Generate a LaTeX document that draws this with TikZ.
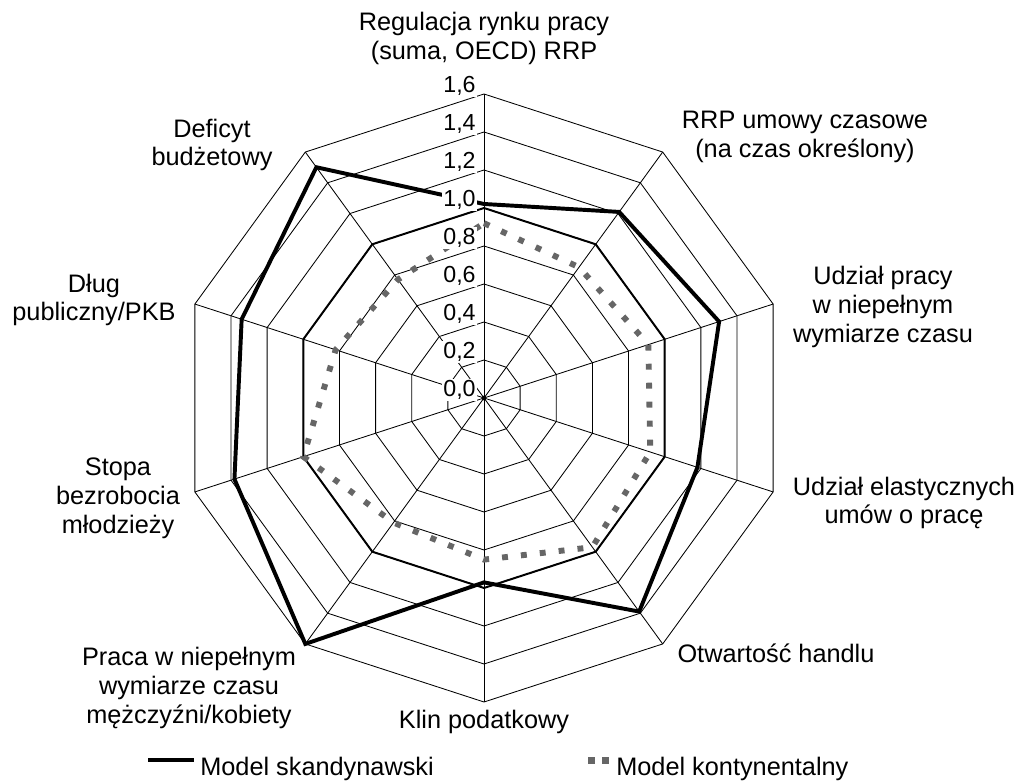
\documentclass[tikz,border=0pt]{standalone}
\usepackage{fontspec}
\setmainfont{Liberation Sans}
\begin{document}
\begin{tikzpicture}[
    siatka/.style={line width=0.6pt},
    srednia/.style={line width=1.4pt},
    skand/.style={line width=2.8pt},
    kont/.style={line width=4.2pt, black!60, dash pattern=on 4.2pt off 9.3pt},
    opis/.style={font=\fontsize{18}{20.5}\selectfont, align=center},
    skala/.style={font=\fontsize{16.5}{18}\selectfont, anchor=base east, inner sep=0.8pt, fill=white},
    legenda/.style={font=\fontsize{18}{20.5}\selectfont, anchor=base west, inner sep=0pt}
]
    \useasboundingbox (0,0) rectangle (25.5,19.55);

    \begin{scope}[shift={(12.1,9.6)}]
        % Siatka (co 0,2)
        \foreach \i [evaluate=\i as \r using 0.95*\i] in {1,...,8}
            \draw[siatka] (90:\r) \foreach \a in {54,18,...,-234} { -- (\a:\r) } -- cycle;

        % Osie
        \foreach \a in {90,54,...,-234}
            \draw[siatka] (0,0) -- (\a:7.6);

        % Poziom 1,0
        \draw[srednia] (90:4.75) \foreach \a in {54,18,...,-234} { -- (\a:4.75) } -- cycle;

        % Model kontynentalny
        \draw[kont] (90:4.37) -- (54:4.04) -- (18:4.32) -- (-18:4.37) -- (-54:4.61)
            -- (-90:4.04) -- (-126:3.85) -- (-162:4.75) -- (162:3.90) -- (126:3.66) -- cycle;

        % Model skandynawski
        \draw[skand] (90:4.85) -- (54:5.75) -- (18:6.18) -- (-18:5.61) -- (-54:6.60)
            -- (-90:4.61) -- (-126:7.6) -- (-162:6.56) -- (162:6.37) -- (126:7.13) -- cycle;

        \fill (0,0) circle (0.06);

        % Skala
        \foreach \i/\t in {0/0,1/2,2/4,3/6,4/8}
            \node[skala] (s0\t) at (-0.175,{0.95*\i+0.03}) {0,\t};
        \foreach \i/\t in {5/0,6/2,7/4,8/6}
            \node[skala] (s1\t) at (-0.175,{0.95*\i+0.03}) {1,\t};
    \end{scope}

    % Opisy osi
    \node[opis] (regulacja) at (12.1,18.59) {Regulacja rynku pracy\\(suma, OECD) RRP};
    \node[opis] (rrp) at (20.125,16.125) {RRP umowy czasowe\\(na czas określony)};
    \node[opis] (udzPracy) at (22.075,11.875) {Udział pracy\\w niepełnym\\wymiarze czasu};
    \node[opis] (udzElast) at (22.6,6.975) {Udział elastycznych\\umów o pracę};
    \node[opis] (otwartosc) at (19.4,3.225) {Otwartość handlu};
    \node[opis] (klin) at (12.1,1.5) {Klin podatkowy};
    \node[opis] (praca) at (4.725,2.35) {Praca w niepełnym\\wymiarze czasu\\mężczyźni/kobiety};
    \node[opis] (stopa) at (2.95,7.1) {Stopa\\bezrobocia\\młodzieży};
    \node[opis] (dlug) at (2.35,12.05) {Dług\\publiczny/PKB};
    \node[opis] (deficyt) at (5.3,15.925) {Deficyt\\budżetowy};

    % Legenda
    \draw[skand] (3.7,0.55) -- (4.85,0.55);
    \node[legenda] (legSkand) at (5.0,0.17) {Model skandynawski};
    \fill[black!60] (14.7,0.46) rectangle ++(0.17,0.17);
    \fill[black!60] (15.05,0.46) rectangle ++(0.17,0.17);
    \node[legenda] (legKont) at (15.4,0.17) {Model kontynentalny};
\end{tikzpicture}
\end{document}
